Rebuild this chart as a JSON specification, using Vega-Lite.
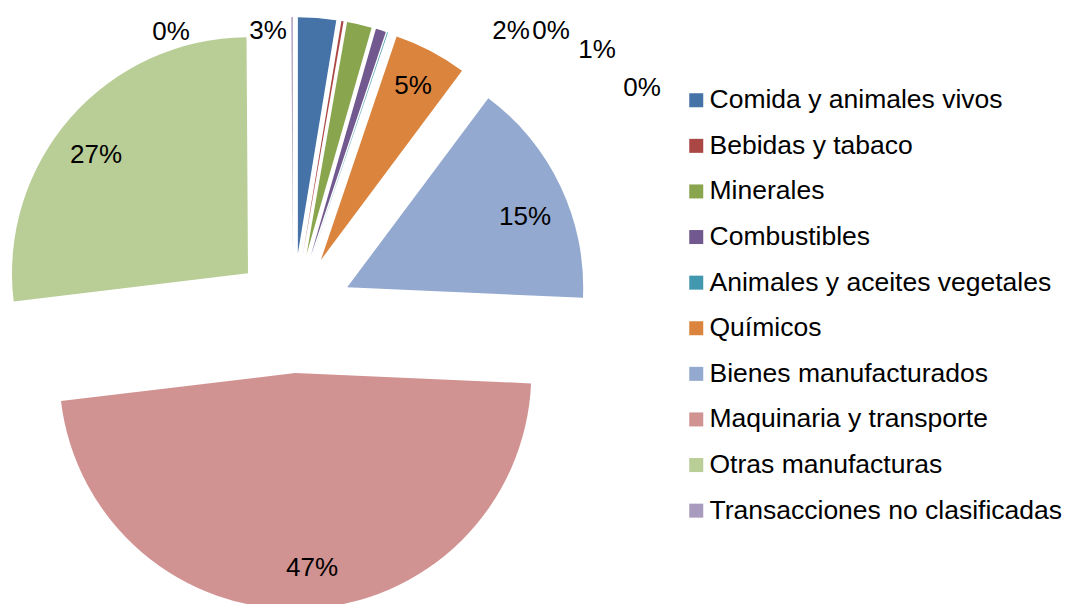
{
  "$schema": "https://vega.github.io/schema/vega-lite/v6.json",
  "autosize": {"type": "none"},
  "width": 586,
  "height": 604,
  "padding": {"left": 0, "top": 0, "right": 481, "bottom": 0},
  "background": "white",
  "config": {"view": {"stroke": null}, "font": "Liberation Sans"},
  "data": {"values": [
    {"cat": "Comida y animales vivos", "value": 2.6, "label": "3%", "ord": 1},
    {"cat": "Bebidas y tabaco", "value": 0.15, "label": "0%", "ord": 2},
    {"cat": "Minerales", "value": 1.7, "label": "2%", "ord": 3},
    {"cat": "Combustibles", "value": 0.7, "label": "1%", "ord": 4},
    {"cat": "Animales y aceites vegetales", "value": 0.05, "label": "0%", "ord": 5},
    {"cat": "Químicos", "value": 5.0, "label": "5%", "ord": 6},
    {"cat": "Bienes manufacturados", "value": 15.5, "label": "15%", "ord": 7},
    {"cat": "Maquinaria y transporte", "value": 47.4, "label": "47%", "ord": 8},
    {"cat": "Otras manufacturas", "value": 26.8, "label": "27%", "ord": 9},
    {"cat": "Transacciones no clasificadas", "value": 0.1, "label": "0%", "ord": 10}
  ]},
  "encoding": {
    "theta": {"field": "value", "type": "quantitative", "stack": true},
    "order": {"field": "ord", "type": "quantitative"},
    "color": {
      "field": "cat", "type": "nominal",
      "scale": {
        "domain": ["Comida y animales vivos", "Bebidas y tabaco", "Minerales", "Combustibles", "Animales y aceites vegetales", "Químicos", "Bienes manufacturados", "Maquinaria y transporte", "Otras manufacturas", "Transacciones no clasificadas"],
        "range": ["#4572A7", "#AA4643", "#89A54E", "#71588F", "#4198AF", "#DB843D", "#93A9CF", "#D19392", "#B9CD96", "#A99BBD"]
      },
      "legend": {
        "title": null, "orient": "none", "legendX": 683, "legendY": 87, "padding": 0,
        "symbolType": "square", "symbolSize": 196, "symbolStrokeWidth": 0, "symbolOpacity": 1,
        "labelFont": "Liberation Sans", "labelFontSize": 26.5, "labelColor": "black", "labelLimit": 0,
        "labelOffset": 0, "rowPadding": 18.6
      }
    }
  },
  "layer": [
    {"mark": {"type": "arc", "radius": 236, "xOffset": 4.9, "yOffset": -48.8}, "encoding": {"opacity": {"condition": {"test": "datum.cat === 'Comida y animales vivos'", "value": 1}, "value": 0}}},
    {"mark": {"type": "arc", "radius": 236, "xOffset": 10.0, "yOffset": -48.2}, "encoding": {"opacity": {"condition": {"test": "datum.cat === 'Bebidas y tabaco'", "value": 1}, "value": 0}}},
    {"mark": {"type": "arc", "radius": 236, "xOffset": 13.5, "yOffset": -47.5}, "encoding": {"opacity": {"condition": {"test": "datum.cat === 'Minerales'", "value": 1}, "value": 0}}},
    {"mark": {"type": "arc", "radius": 236, "xOffset": 17.8, "yOffset": -46.3}, "encoding": {"opacity": {"condition": {"test": "datum.cat === 'Combustibles'", "value": 1}, "value": 0}}},
    {"mark": {"type": "arc", "radius": 236, "xOffset": 19.2, "yOffset": -45.9}, "encoding": {"opacity": {"condition": {"test": "datum.cat === 'Animales y aceites vegetales'", "value": 1}, "value": 0}}},
    {"mark": {"type": "arc", "radius": 236, "xOffset": 27.9, "yOffset": -42.1}, "encoding": {"opacity": {"condition": {"test": "datum.cat === 'Químicos'", "value": 1}, "value": 0}}},
    {"mark": {"type": "arc", "radius": 236, "xOffset": 54.2, "yOffset": -14.7}, "encoding": {"opacity": {"condition": {"test": "datum.cat === 'Bienes manufacturados'", "value": 1}, "value": 0}}},
    {"mark": {"type": "arc", "radius": 236, "xOffset": 2.3, "yOffset": 71.0}, "encoding": {"opacity": {"condition": {"test": "datum.cat === 'Maquinaria y transporte'", "value": 1}, "value": 0}}},
    {"mark": {"type": "arc", "radius": 236, "xOffset": -45.0, "yOffset": -28.7}, "encoding": {"opacity": {"condition": {"test": "datum.cat === 'Otras manufacturas'", "value": 1}, "value": 0}}},
    {"mark": {"type": "arc", "radius": 236, "xOffset": -0.2, "yOffset": -49.0}, "encoding": {"opacity": {"condition": {"test": "datum.cat === 'Transacciones no clasificadas'", "value": 1}, "value": 0}}},

    {"mark": {"type": "text", "radius": 236, "xOffset": 4.9, "yOffset": -48.8, "dx": -49.2, "dy": 13.5, "fontSize": 26, "font": "Liberation Sans"}, "encoding": {"text": {"field": "label"}, "color": {"value": "black"}, "opacity": {"condition": {"test": "datum.cat === 'Comida y animales vivos'", "value": 1}, "value": 0}}},
    {"mark": {"type": "text", "radius": 236, "xOffset": 10.0, "yOffset": -48.2, "dx": 208.5, "dy": 9.4, "fontSize": 26, "font": "Liberation Sans"}, "encoding": {"text": {"field": "label"}, "color": {"value": "black"}, "opacity": {"condition": {"test": "datum.cat === 'Bebidas y tabaco'", "value": 1}, "value": 0}}},
    {"mark": {"type": "text", "radius": 236, "xOffset": 13.5, "yOffset": -47.5, "dx": 151.6, "dy": 6, "fontSize": 26, "font": "Liberation Sans"}, "encoding": {"text": {"field": "label"}, "color": {"value": "black"}, "opacity": {"condition": {"test": "datum.cat === 'Minerales'", "value": 1}, "value": 0}}},
    {"mark": {"type": "text", "radius": 236, "xOffset": 17.8, "yOffset": -46.3, "dx": 216.1, "dy": 19.2, "fontSize": 26, "font": "Liberation Sans"}, "encoding": {"text": {"field": "label"}, "color": {"value": "black"}, "opacity": {"condition": {"test": "datum.cat === 'Combustibles'", "value": 1}, "value": 0}}},
    {"mark": {"type": "text", "radius": 236, "xOffset": 19.2, "yOffset": -45.9, "dx": 254.4, "dy": 56, "fontSize": 26, "font": "Liberation Sans"}, "encoding": {"text": {"field": "label"}, "color": {"value": "black"}, "opacity": {"condition": {"test": "datum.cat === 'Animales y aceites vegetales'", "value": 1}, "value": 0}}},
    {"mark": {"type": "text", "radius": 193, "xOffset": 27.9, "yOffset": -42.1, "dx": 2.3, "dy": -2.6, "fontSize": 26, "font": "Liberation Sans"}, "encoding": {"text": {"field": "label"}, "color": {"value": "black"}, "opacity": {"condition": {"test": "datum.cat === 'Químicos'", "value": 1}, "value": 0}}},
    {"mark": {"type": "text", "radius": 193, "xOffset": 54.2, "yOffset": -14.7, "dx": 3.4, "dy": 12.9, "fontSize": 26, "font": "Liberation Sans"}, "encoding": {"text": {"field": "label"}, "color": {"value": "black"}, "opacity": {"condition": {"test": "datum.cat === 'Bienes manufacturados'", "value": 1}, "value": 0}}},
    {"mark": {"type": "text", "radius": 193, "xOffset": 2.3, "yOffset": 71.0, "dx": 9.4, "dy": 2.6, "fontSize": 26, "font": "Liberation Sans"}, "encoding": {"text": {"field": "label"}, "color": {"value": "black"}, "opacity": {"condition": {"test": "datum.cat === 'Maquinaria y transporte'", "value": 1}, "value": 0}}},
    {"mark": {"type": "text", "radius": 193, "xOffset": -45.0, "yOffset": -28.7, "dx": -7.2, "dy": 9.8, "fontSize": 26, "font": "Liberation Sans"}, "encoding": {"text": {"field": "label"}, "color": {"value": "black"}, "opacity": {"condition": {"test": "datum.cat === 'Otras manufacturas'", "value": 1}, "value": 0}}},
    {"mark": {"type": "text", "radius": 236, "xOffset": -0.2, "yOffset": -49.0, "dx": -121.1, "dy": 14.5, "fontSize": 26, "font": "Liberation Sans"}, "encoding": {"text": {"field": "label"}, "color": {"value": "black"}, "opacity": {"condition": {"test": "datum.cat === 'Transacciones no clasificadas'", "value": 1}, "value": 0}}}
  ]
}
